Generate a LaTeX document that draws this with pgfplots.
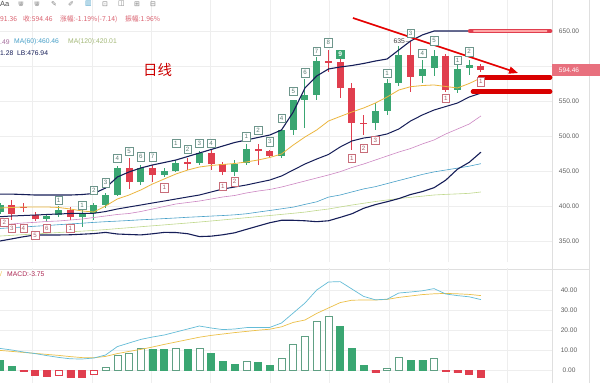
\documentclass[border=0pt]{standalone}
\usepackage{fontspec}
\setmainfont{Liberation Sans}
\newfontfamily\cjk{Noto Sans CJK SC}
\newfontfamily\dejavu{DejaVu Sans}
\usepackage{pgfplots}
\pgfplotsset{compat=1.18}
\usepackage{pgfplotstable}
\usetikzlibrary{arrows.meta}

\definecolor{cgreen}{RGB}{58,166,114}
\definecolor{cred}{RGB}{224,62,78}
\definecolor{navy}{RGB}{22,30,88}
\definecolor{maorange}{RGB}{236,182,62}
\definecolor{mapink}{RGB}{205,135,195}
\definecolor{macyan}{RGB}{72,160,200}
\definecolor{malgreen}{RGB}{192,216,140}
\definecolor{difc}{RGB}{100,188,215}
\definecolor{deac}{RGB}{236,192,72}
\definecolor{hgreen}{RGB}{96,160,132}
\definecolor{gridc}{RGB}{238,238,238}
\definecolor{tagpink}{RGB}{232,112,126}
\definecolor{hdrred}{RGB}{218,96,110}
\definecolor{tdgreen}{RGB}{110,150,140}
\definecolor{tdred}{RGB}{200,110,122}
\definecolor{tickc}{RGB}{95,95,95}

\pgfplotstableread{
i o h l c
0 391 404 388 401
4 382 389 379 386
5 387 400 384 395
7 384 394 370 389
8 390 404 380 401
9 401 419 397 416
10 416 457 414 455
12 435 458 430 454
14 444 454 441 450
15 450 466 448 462
17 462 478 459 475
20 448 466 443 460
21 461 488 458 481
24 471 510 468 508
25 508 552 501 551
26 551 582 511 558
27 558 613 551 607
32 518 547 508 536
33 536 582 530 575
34 576 628 571 616
36 585 609 575 595
37 597 623 585 614
39 566 601 561 595
40 597 609 587 601.6
}\up

\pgfplotstableread{
i o h l c
1 401 408 380 389
2 398.5 404 391 398
3 387 392 378 382
6 395 398 380 384
11 454 468 425 435
13 454 459 435 444
16 462.5 468 452 461.5
18 476 480 451 460
19 460 463 445 448
22 481 489 458 479
23 478 480 468 471
28 607 623 592 604
29 605 611 554 568
30 568 575 480 518
31 519 530 501 518
35 616 635 563 584
38 614 617 563 566
41 600.5 603.2 591.36 594.46
}\down

\pgfplotstableread{
i ub mb lb ma pk cy lg
0 417 384.7 350 397.1 372.9 367.9 357.1
1 417 385.7 353 397.9 374.3 369 358.1
2 416.4 386.4 356.1 398.6 375.7 370 359.1
3 415.7 387.1 358.6 398.6 376.7 371.1 360.1
4 415.7 387.9 358.6 398.6 377.9 372.1 361.1
5 415.7 388.6 358.6 397.9 378.6 373.3 362.1
6 415.7 389.3 358.9 395.7 380 374.4 363.1
7 416.4 389.6 359.7 392.9 381.4 375.4 364.1
8 417.9 389.6 360.6 391.4 383.6 376.6 365.1
9 425.7 392.1 362.3 400 385.7 377.6 366.3
10 441.4 395.7 360 410 387.9 378.4 367.7
11 448.6 398.6 359.3 415.7 389.3 379.3 369
12 454.3 401.4 358.7 422.9 392.1 380.3 370.4
13 458.6 404.3 360.3 431.4 395.7 381.1 371.7
14 462.1 407.1 362.3 438.6 399.3 382 373
15 465.7 410 362.1 445.7 402.9 382.9 374.4
16 470.7 412.9 360.4 451.4 405 383.9 375.7
17 475.7 415.7 356.3 455.7 407.1 384.7 377.1
18 480.7 420 356.9 457.9 410 385.6 378.6
19 485.7 424.3 358.9 459.3 412.9 386.4 380.1
20 490.7 427.1 361.7 460.7 415 387.4 381.7
21 494.3 430 366.6 462.9 418.6 388.9 383.3
22 497.9 433.6 371.4 465.7 421.4 391.3 384.9
23 501.4 437.1 376.1 469.3 423.6 393.6 386.4
24 508.6 442.9 379.6 474.3 427.1 396 388
25 534.3 451.4 379.6 487.1 431.4 398.4 389.6
26 568.6 460 378.9 498.6 435.7 402.3 391.3
27 585.7 467.1 377.6 508.6 440 406 393.6
28 595.7 473.6 378.9 521.4 444.3 412.7 395.7
29 598.6 484.3 383.7 527.9 449 415.7 398.6
30 600.7 492.9 388.9 534.3 455 420.1 401.4
31 603.6 497.1 396.7 540 460 424.4 403.9
32 607.1 499.3 402 547.1 465.7 427.6 406.4
33 610 502.9 406.1 555.7 471.4 432 408.6
34 622.9 510 410.6 565.7 477.1 436.4 410.7
35 635.7 521.4 416.4 570.4 482.1 440.7 412.4
36 644.3 530 420.6 572.1 488.6 445.1 414
37 650 537.1 426.1 572.9 494.3 448.7 415.7
38 650 542.1 436.9 570.7 502.9 451.4 416.6
39 650 547.1 452.6 568.6 510 454.1 417.3
40 650 555.7 462.4 575 517.1 456.9 418.1
41 650 561.3 476.9 582.9 528.6 460.46 420.01
}\lines

\pgfplotstableread{
i y lab
5 408.6 1
7 401.4 1
8 422.9 2
9 433.3 3
10 468.6 4
11 478.6 5
12 470.4 6
13 470.4 7
15 489.6 1
16 481 2
17 489.6 3
18 489.6 4
21 499 1
22 508.6 2
23 491.9 3
24 525.3 4
25 564.3 5
26 590.4 6
27 621.4 7
28 633.3 8
33 589.6 1
35 646.7 3
36 618.1 4
37 636.1 5
39 608.6 1
40 620.4 2
}\tdup

\pgfplotstableread{
i y lab
0.36 377.1 2
1 368.1 3
2 368.1 4
3 358.6 5
4 368.1 6
6 368.1 1
14 426.1 1
19 428.6 1
20 434.7 2
30 468.1 1
31 482.4 2
32 494.3 3
38 553.9 1
41 577.6 1
}\tddn

\pgfplotstableread{
i dif dea
0 10.8 9.8
1 10 9.3
2 9 8.8
3 8.2 8.3
4 7.2 7.8
5 6.3 7.3
6 5.6 6.7
7 5.5 6.2
8 6.0 6.1
9 7.5 6.8
10 11.7 8.2
11 13.5 9.3
12 15.3 10.3
13 16.5 11.5
14 17.5 12.8
15 19 14
16 20.5 15.2
17 22 16.4
18 21 17.3
19 20.2 18
20 20.5 18.7
21 21.2 19.3
22 21.3 19.9
23 21.3 20.4
24 23.5 21.6
25 28.5 23.8
26 33.5 25
27 40 28.3
28 44 31
29 44.2 33.7
30 40.5 34.9
31 36.8 35
32 35.1 35
33 35.4 35.3
34 38.5 36.3
35 39 37
36 39.6 37.7
37 40.7 38.1
38 38 38.3
39 37.2 38.1
40 36.6 37.8
41 35.2 37.2
}\macdlines

\pgfplotsset{
  chartbase/.style={
    scale only axis, anchor=south west, width=552bp,
    xmin=0, xmax=47.06, clip=false,
    axis line style={draw=none}, tick style={draw=none},
    xtick={2.771,7.835,12.899,17.963,23.027,28.090,33.154,38.218,43.282},
    xticklabels={},
    yticklabel pos=right,
    yticklabel style={anchor=center, font=\fontsize{6.6}{7}\selectfont, text=tickc, xshift=17bp},
    grid=major, major grid style={draw=gridc, line width=0.5bp},
  },
  tdlab/.style={draw=none, mark=none, nodes near coords, point meta=explicit symbolic,
    nodes near coords style={anchor=center, fill=white, draw=#1, text=#1!85!black,
      line width=0.4bp, inner sep=0.6bp, minimum width=7.5bp, minimum height=8.5bp,
      font=\fontsize{6.2}{6.5}\selectfont}},
  candle/.style 2 args={draw=none, mark=none, error bars/.cd, y dir=both, y explicit, error mark=none,
    error bar style={line width=#2, draw=#1, solid}},
}

\begin{document}
\begin{tikzpicture}[x=1bp,y=1bp]
\fill[white] (0,0) rectangle (600,383);
\draw[gray!25, line width=0.5bp] (552,0) -- (552,383);
\draw[gray!25, line width=0.5bp] (589,0) -- (589,383);
\draw[gray!25, line width=0.5bp] (0,114) -- (589,114);

\begin{axis}[chartbase, at={(0bp,121bp)}, height=262bp,
  ymin=320, ymax=694.29,
  ytick={350,400,450,500,550,600,650},
  yticklabels={350.00,400.00,450.00,500.00,550.00,{},650.00}]
% wicks
\addplot[candle={cgreen}{1bp}]
  table[x=i, y expr={0.5*(\thisrow{h}+\thisrow{l})}, y error expr={0.5*(\thisrow{h}-\thisrow{l})}] {\up};
\addplot[candle={cred}{1bp}]
  table[x=i, y expr={0.5*(\thisrow{h}+\thisrow{l})}, y error expr={0.5*(\thisrow{h}-\thisrow{l})}] {\down};
% bodies
\addplot[candle={cgreen}{7bp}]
  table[x=i, y expr={0.5*(\thisrow{o}+\thisrow{c})}, y error expr={max(0.5*abs(\thisrow{c}-\thisrow{o}),0.7)}] {\up};
\addplot[candle={cred}{7bp}]
  table[x=i, y expr={0.5*(\thisrow{o}+\thisrow{c})}, y error expr={max(0.5*abs(\thisrow{c}-\thisrow{o}),0.7)}] {\down};
% indicator lines
\addplot[malgreen, line width=0.6bp] table[x=i, y=lg] {\lines};
\addplot[macyan, line width=0.6bp] table[x=i, y=cy] {\lines};
\addplot[mapink, line width=0.6bp] table[x=i, y=pk] {\lines};
\addplot[navy, line width=1.1bp] table[x=i, y=lb] {\lines};
\addplot[navy, line width=1.0bp] table[x=i, y=mb] {\lines};
\addplot[maorange, line width=0.8bp] table[x=i, y=ma] {\lines};
\addplot[navy, line width=1.1bp] table[x=i, y=ub] {\lines};
% TD labels
\addplot[tdlab=tdgreen] table[x=i, y=y, meta=lab] {\tdup};
\addplot[tdlab=tdred] table[x=i, y=y, meta=lab] {\tddn};
\addplot[draw=none, mark=none, nodes near coords, point meta=explicit symbolic,
  nodes near coords style={anchor=center, fill=cgreen, draw=cgreen, text=white,
   inner sep=0.6bp, minimum width=7.5bp, minimum height=8.5bp, font=\bfseries\fontsize{6.8}{7}\selectfont}]
  table[x=i, y=y, meta=lab] {
i y lab
29 616.7 9
};
\node[anchor=east, inner sep=0, font=\fontsize{6.8}{7}\selectfont, text=black!75] at (axis cs:34.95,635.5) {635\,–};
% annotation highlights
\draw[cred, line width=4.5bp, line cap=round] (axis cs:40.07,650) -- (axis cs:46.9,650);
\draw[red!35!white, line width=1.6bp, line cap=round] (axis cs:40.4,650) -- (axis cs:46.6,650);
\draw[red!85!black, line width=4.5bp, line cap=round] (axis cs:40.92,583.9) -- (axis cs:46.9,583.9);
\draw[red!85!black, line width=4.5bp, line cap=round] (axis cs:40.32,563.3) -- (axis cs:46.9,563.3);
\draw[red!90!black, line width=1.6bp, -{Triangle[length=9bp,width=7bp]}] (axis cs:30.09,668.6) -- (axis cs:44.16,590);
\end{axis}

\begin{axis}[chartbase, at={(0bp,0bp)}, height=115bp,
  ymin=-6.5, ymax=51,
  ytick={0,10,20,30,40},
  yticklabels={0.00,10.00,20.00,30.00,40.00}]
\addplot[ybar, bar width=7bp, bar shift=0pt, fill=cgreen, draw=cgreen, line width=0.5bp]
 coordinates {(0,5) (1,1.7) (13,10.5) (14,10.5) (16,10.5) (18,8.5) (19,4.5) (20,3) (22,4) (23,2.5) (29,21.8) (30,10.7) (31,2.3) (35,5) (36,5)};
\addplot[ybar, bar width=7bp, bar shift=0pt, fill=white, draw=hgreen, line width=0.6bp]
 coordinates {(9,1.2) (10,7.3) (11,8.5) (12,11) (15,11) (17,11) (21,4.5) (24,6) (25,12.8) (26,16.8) (27,24.5) (28,26.8) (33,1) (34,6.3) (37,5.8)};
\addplot[ybar, bar width=7bp, bar shift=0pt, fill=cred, draw=cred, line width=0.5bp]
 coordinates {(2,-0.5) (3,-2.5) (4,-3) (6,-3.8) (7,-3.8) (32,-1.3) (38,-0.5) (39,-1.3) (40,-2) (41,-3.75)};
\addplot[ybar, bar width=7bp, bar shift=0pt, fill=white, draw=cred, line width=0.6bp]
 coordinates {(5,-2.8) (8,-2.2)};
\addplot[deac, line width=0.7bp] table[x=i, y=dea] {\macdlines};
\addplot[difc, line width=0.7bp] table[x=i, y=dif] {\macdlines};
\end{axis}

% price tag
\fill[tagpink] (552,307) rectangle (600,319);
\node[text=white, inner sep=0, font=\fontsize{6.6}{7}\selectfont] at (569,313) {594.46};

% header texts
\node[anchor=west, inner sep=0, font=\fontsize{7.5}{8}\selectfont, text=black!70] at (0,379) {Aa};
\node[anchor=west, inner sep=0, font=\dejavu\fontsize{7}{8}\selectfont, text=gray] at (18,379) {⋓};
\node[anchor=west, inner sep=0, font=\dejavu\fontsize{7}{8}\selectfont, text=gray] at (34,379) {⋓};
\node[anchor=west, inner sep=0, font=\dejavu\fontsize{7}{8}\selectfont, text=gray] at (51,379) {✎};
\node[anchor=west, inner sep=0, font=\dejavu\fontsize{7}{8}\selectfont, text=gray] at (68,379) {✐};
\node[anchor=west, inner sep=0, font=\dejavu\fontsize{7}{8}\selectfont, text=macyan] at (85,379) {▥};
\node[anchor=west, inner sep=0, font=\dejavu\fontsize{7}{8}\selectfont, text=gray] at (102,379) {⊡};
\node[anchor=west, inner sep=0, font=\dejavu\fontsize{7}{8}\selectfont, text=gray] at (118,379) {◫};
\node[anchor=west, inner sep=0, font=\dejavu\fontsize{7}{8}\selectfont, text=gray] at (134,379) {⊞};
\node[anchor=west, inner sep=0, font=\dejavu\fontsize{7}{8}\selectfont, text=gray] at (150,379) {⊟};

\node[anchor=west, inner sep=0, font=\cjk\fontsize{6.8}{8}\selectfont, text=hdrred] at (0,363.7) {91.36};
\node[anchor=west, inner sep=0, font=\cjk\fontsize{6.8}{8}\selectfont, text=hdrred] at (23,363.7) {收:594.46};
\node[anchor=west, inner sep=0, font=\cjk\fontsize{6.8}{8}\selectfont, text=hdrred] at (60,363.7) {涨幅:-1.19\%(-7.14)};
\node[anchor=west, inner sep=0, font=\cjk\fontsize{6.8}{8}\selectfont, text=hdrred] at (125,363.7) {振幅:1.96\%};

\node[anchor=west, inner sep=0, font=\fontsize{6.8}{8}\selectfont, text=mapink!80!black] at (0,341.3) {.49};
\node[anchor=west, inner sep=0, font=\fontsize{6.8}{8}\selectfont, text=macyan] at (14,341.3) {MA(60):460.46};
\node[anchor=west, inner sep=0, font=\fontsize{6.8}{8}\selectfont, text=malgreen!85!black] at (68,341.3) {MA(120):420.01};
\node[anchor=west, inner sep=0, font=\fontsize{6.8}{8}\selectfont, text=navy] at (0,330.3) {1.28\ \ LB:476.94};

\node[inner sep=0, font=\cjk\fontsize{14.5}{16}\selectfont, text=red!80!black] at (157.5,312.7) {日线};

\node[anchor=west, inner sep=0, font=\fontsize{6.8}{8}\selectfont, text=deac] at (0,108.7) {/};
\node[anchor=west, inner sep=0, font=\fontsize{6.8}{8}\selectfont, text=purple!70!gray] at (7,108.7) {MACD:-3.75};

\pgfresetboundingbox
\path (0,0) rectangle (600,383);
\end{tikzpicture}
\end{document}
